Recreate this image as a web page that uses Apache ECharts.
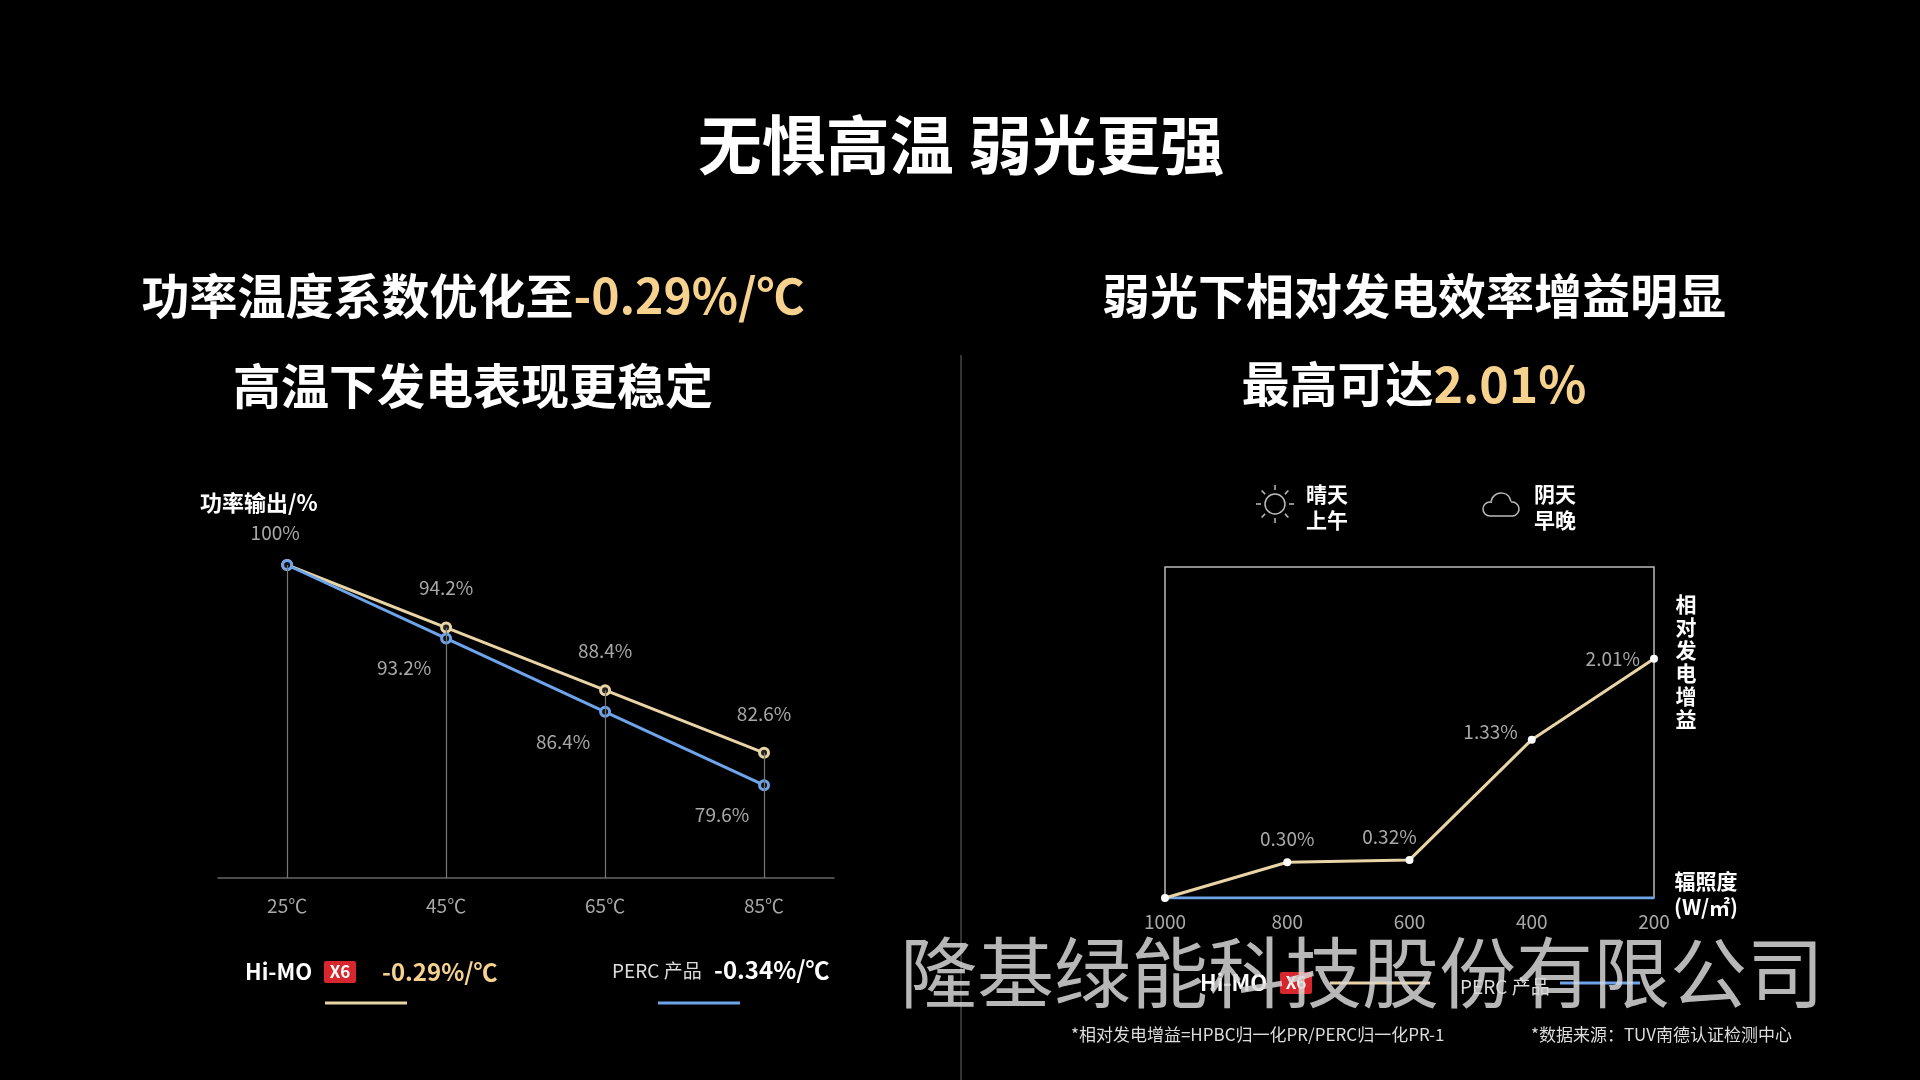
<!DOCTYPE html>
<html><head><meta charset="utf-8">
<script src="https://cdn.jsdelivr.net/npm/echarts@6/dist/echarts.min.js"></script>
<style>html,body{margin:0;background:#000}#c{width:1920px;height:1080px}</style></head>
<body><div id="c"></div>
<script>
const tempTicks = [25, 45, 65, 85];
const himoTemp = [100, 94.2, 88.4, 82.6];
const percTemp = [100, 93.2, 86.4, 79.6];
const irrCats = ['1000', '800', '600', '400', '200'];
const himoGain = [0, 0.30, 0.32, 1.33, 2.01];
const percGain = [0, 0, 0, 0, 0];

const F = '"Noto Sans CJK SC","Noto Sans",sans-serif';
const GOLD = '#e9d4a6', BLUE = '#6ea4ea', LBL = '#a8a8a8';
const YMIN = 71.0;
const chart = echarts.init(document.getElementById('c'));

const drop = tempTicks.map((t, i) => [{coord: [t, Math.max(himoTemp[i], percTemp[i])]}, {coord: [t, YMIN]}]);
const sunRays = [];
for (let k = 0; k < 8; k++) {
  const a = k * Math.PI / 4, cx = 1275, cy = 504;
  sunRays.push({type: 'line', shape: {x1: cx + Math.cos(a) * 14, y1: cy + Math.sin(a) * 14, x2: cx + Math.cos(a) * 19, y2: cy + Math.sin(a) * 19}, style: {stroke: '#bbb', lineWidth: 1.5}});
}
const T = (x, y, text, size, color, weight, align) => ({type: 'text', x, y, style: {text, font: `${weight || 'bold'} ${size}px ${F}`, fill: color || '#fff', align: align || 'center', verticalAlign: 'middle'}});
const cloudStyle = {fill: 'none', stroke: '#bbb', lineWidth: 1.5};

chart.setOption({
  backgroundColor: '#000',
  animation: false,
  grid: [
    {left: 218, right: 1920 - 834, top: 565, bottom: 1080 - 878},
    {left: 1165, right: 1920 - 1654, top: 567, bottom: 1080 - 898, show: true, borderColor: '#bbb', borderWidth: 1.5}
  ],
  xAxis: [
    {type: 'value', gridIndex: 0, min: 16.3, max: 93.8, splitLine: {show: false},
     axisLine: {lineStyle: {color: '#666', width: 1.5}}, axisTick: {show: false},
     axisLabel: {customValues: tempTicks, formatter: v => v + '℃', color: LBL, fontSize: 19, fontFamily: F, margin: 18}},
    {type: 'category', gridIndex: 1, data: irrCats, boundaryGap: false,
     axisLine: {show: false}, axisTick: {show: false}, splitLine: {show: false},
     axisLabel: {color: LBL, fontSize: 19, fontFamily: F, margin: 14}}
  ],
  yAxis: [
    {type: 'value', gridIndex: 0, min: YMIN, max: 100, show: false},
    {type: 'value', gridIndex: 1, min: 0, max: 2.78, show: false}
  ],
  series: [
    {type: 'line', xAxisIndex: 0, yAxisIndex: 0, data: tempTicks.map((t, i) => [t, himoTemp[i]]), z: 3,
     lineStyle: {color: GOLD, width: 3}, symbol: 'circle', symbolSize: 9,
     itemStyle: {color: '#222', borderColor: GOLD, borderWidth: 3},
     label: {show: true, position: 'top', distance: 24, color: LBL, fontSize: 19, fontFamily: F,
       formatter: p => p.dataIndex === 0 ? '' : p.value[1] + '%'},
     markLine: {silent: true, symbol: 'none', label: {show: false}, lineStyle: {color: '#777', width: 1.2, type: 'solid'}, data: drop}},
    {type: 'line', xAxisIndex: 0, yAxisIndex: 0, data: tempTicks.map((t, i) => [t, percTemp[i]]), z: 4,
     lineStyle: {color: BLUE, width: 3}, symbol: 'circle', symbolSize: 9,
     itemStyle: {color: '#111', borderColor: BLUE, borderWidth: 3},
     label: {show: true, position: 'bottom', distance: 14, color: LBL, fontSize: 19, fontFamily: F,
       formatter: p => p.dataIndex === 0 ? '100%' : p.value[1] + '%'},
     labelLayout: p => p.dataIndex === 0 ? {dy: -62, dx: -12} : {dx: -42}},
    {type: 'line', xAxisIndex: 1, yAxisIndex: 1, data: percGain, z: 3,
     lineStyle: {color: BLUE, width: 3}, symbol: 'none'},
    {type: 'line', xAxisIndex: 1, yAxisIndex: 1, data: himoGain.map((v, i) => ({value: v, label: {position: i >= 3 ? 'left' : 'top'}})), z: 4,
     lineStyle: {color: GOLD, width: 3}, symbol: 'circle', symbolSize: 8,
     itemStyle: {color: '#fff'},
     label: {show: true, position: 'top', distance: 10, color: LBL, fontSize: 19, fontFamily: F,
       formatter: p => p.dataIndex === 0 ? '' : p.value.toFixed(2) + '%'},
     labelLayout: p => ({dx: [0, 0, -20, 0, 0][p.dataIndex], dy: [0, 0, 0, -8, 0][p.dataIndex]})}
  ],
  graphic: [
    T(961, 145, '无惧高温 弱光更强', 64),
    {type: 'text', x: 473, y: 296, style: {rich: {w: {font: `bold 48px ${F}`, fill: '#fff'}, g: {font: `bold 48px ${F}`, fill: '#f6d28e'}}, text: '{w|功率温度系数优化至}{g|-0.29%/℃}', align: 'center', verticalAlign: 'middle'}},
    T(473, 386, '高温下发电表现更稳定', 48),
    T(1414, 296, '弱光下相对发电效率增益明显', 48),
    {type: 'text', x: 1414, y: 384, style: {rich: {w: {font: `bold 48px ${F}`, fill: '#fff'}, g: {font: `bold 50px ${F}`, fill: '#f6d28e'}}, text: '{w|最高可达}{g|2.01%}', align: 'center', verticalAlign: 'middle'}},
    {type: 'line', shape: {x1: 961, y1: 355, x2: 961, y2: 1080}, style: {stroke: '#444', lineWidth: 1.5}},
    T(200, 503, '功率输出/%', 22, '#fff', 'bold', 'left'),
    T(245, 972, 'Hi-MO', 22, '#fff', 'bold', 'left'),
    {type: 'rect', shape: {x: 324, y: 961, width: 32, height: 22, r: 2}, style: {fill: '#d8262e'}},
    T(340, 972, 'X6', 17, '#fff'),
    T(382, 972, '-0.29%/℃', 24, '#f6d28e', 'bold', 'left'),
    {type: 'line', shape: {x1: 325, y1: 1003, x2: 407, y2: 1003}, style: {stroke: GOLD, lineWidth: 3}},
    T(612, 971, 'PERC 产品', 19, '#ddd', 'normal', 'left'),
    T(714, 970, '-0.34%/℃', 24, '#fff', 'bold', 'left'),
    {type: 'line', shape: {x1: 658, y1: 1003, x2: 740, y2: 1003}, style: {stroke: BLUE, lineWidth: 3}},
    {type: 'circle', shape: {cx: 1275, cy: 504, r: 10}, style: {fill: 'none', stroke: '#bbb', lineWidth: 1.5}},
    ...sunRays,
    T(1306, 494, '晴天', 21, '#fff', 'bold', 'left'),
    T(1306, 520, '上午', 21, '#fff', 'bold', 'left'),
    {type: 'line', shape: {x1: 1490, y1: 516, x2: 1512, y2: 516}, style: cloudStyle},
    {type: 'arc', shape: {cx: 1490, cy: 509, r: 7, startAngle: Math.PI / 2, endAngle: Math.PI * 1.6}, style: cloudStyle},
    {type: 'arc', shape: {cx: 1501, cy: 503, r: 10, startAngle: Math.PI * 1.05, endAngle: Math.PI * 1.95}, style: cloudStyle},
    {type: 'arc', shape: {cx: 1512, cy: 509, r: 7, startAngle: Math.PI * 1.45, endAngle: Math.PI * 2.5}, style: cloudStyle},
    T(1534, 494, '阴天', 21, '#fff', 'bold', 'left'),
    T(1534, 520, '早晚', 21, '#fff', 'bold', 'left'),
    {type: 'text', x: 1686, y: 662, style: {text: '相\n对\n发\n电\n增\n益', font: `bold 21px ${F}`, fill: '#fff', align: 'center', verticalAlign: 'middle', lineHeight: 23}},
    T(1706, 881, '辐照度', 21, '#fff', 'bold', 'center'),
    T(1706, 907, '(W/㎡)', 21, '#fff', 'bold', 'center'),
    T(1200, 983, 'Hi-MO', 22, '#fff', 'bold', 'left'),
    {type: 'rect', shape: {x: 1280, y: 972, width: 32, height: 22, r: 2}, style: {fill: '#d8262e'}},
    T(1296, 983, 'X6', 17, '#fff'),
    {type: 'line', shape: {x1: 1330, y1: 983, x2: 1430, y2: 983}, style: {stroke: GOLD, lineWidth: 3}},
    T(1460, 987, 'PERC 产品', 19, '#ddd', 'normal', 'left'),
    {type: 'line', shape: {x1: 1560, y1: 983, x2: 1640, y2: 983}, style: {stroke: BLUE, lineWidth: 3}},
    {type: 'text', x: 1362, y: 973, z: 100, style: {text: '隆基绿能科技股份有限公司', font: `normal 77px ${F}`, fill: 'rgba(215,215,215,0.85)', align: 'center', verticalAlign: 'middle'}},
    T(1071, 1035, '*相对发电增益=HPBC归一化PR/PERC归一化PR-1', 17, '#ddd', 'normal', 'left'),
    T(1531, 1035, '*数据来源：TUV南德认证检测中心', 17, '#ddd', 'normal', 'left')
  ]
});
</script></body></html>
